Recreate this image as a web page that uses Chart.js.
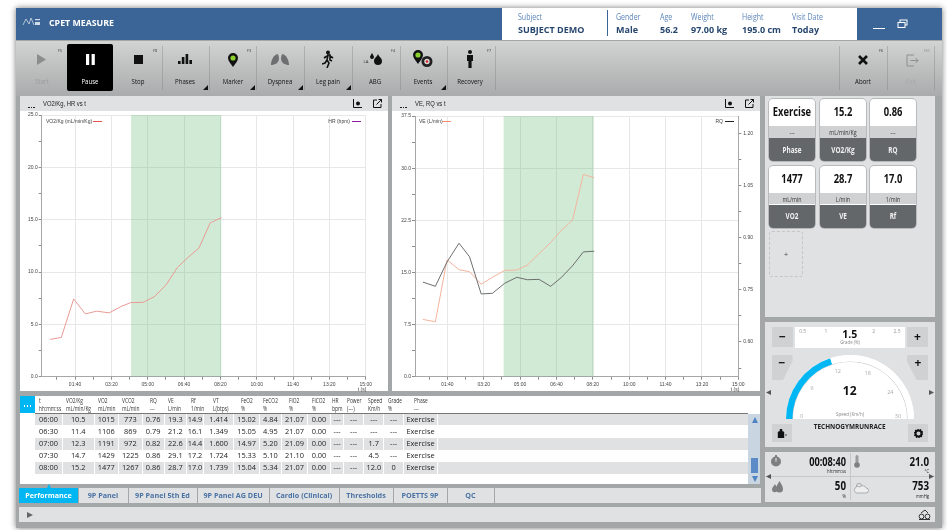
<!DOCTYPE html>
<html lang="en">
<head>
<meta charset="UTF-8">
<title>CPET Measure</title>
<script src="https://cdn.jsdelivr.net/npm/chart.js@4"></script>
<style>
html, body { margin: 0; padding: 0; background: #fff; overflow: hidden; }
#app { position: relative; width: 947px; height: 530px; font-family: "Open Sans", sans-serif; color: #111; filter: blur(0.3px); }
#app div, #app canvas, #app svg { position: absolute; }
.t { white-space: nowrap; line-height: 1; }
</style>
</head>
<body>
<div id="app"></div>
<script>
// chart 1
const vo2Times = [31, 62, 96, 128, 159, 194, 226, 253, 287, 319, 351, 382, 411, 441, 472, 503];
const vo2kg = [3.56, 3.75, 7.43, 6.0, 6.26, 6.1, 6.7, 7.08, 7.1, 7.66, 8.8, 10.45, 11.4, 12.3, 14.7, 15.2];
// chart 2
const veTimes = [33, 67, 99, 132, 161, 193, 224, 258, 291, 320, 352, 384, 414, 444, 474, 504];
const veValues = [8.24, 7.9, 16.8, 15.4, 15.1, 13.3, 14.3, 15.3, 15.34, 16.05, 17.7, 19.3, 21.1, 22.5, 29.1, 28.6];
const rqValues = [0.772, 0.76, 0.83, 0.884, 0.845, 0.738, 0.74, 0.769, 0.786, 0.779, 0.78, 0.76, 0.786, 0.819, 0.859, 0.861];
const phaseStart = 254;
const phaseEnd = 503;

const tableHeads = ['t|hh:mm:ss', 'VO2/Kg|mL/min/Kg', 'VO2|mL/min', 'VCO2|mL/min', 'RQ|---', 'VE|L/min', 'Rf|1/min', 'VT|L(btps)', 'FeO2|%', 'FeCO2|%', 'FiO2|%', 'FiCO2|%', 'HR|bpm', 'Power|(---)', 'Speed|Km/h', 'Grade|%', 'Phase|---'];
const tableRows = [
  ['06:00', '10.5', '1015', '773', '0.76', '19.3', '14.9', '1.414', '15.02', '4.84', '21.07', '0.00', '---', '---', '---', '---', 'Exercise'],
  ['06:30', '11.4', '1106', '869', '0.79', '21.2', '16.1', '1.349', '15.05', '4.95', '21.07', '0.00', '---', '---', '---', '---', 'Exercise'],
  ['07:00', '12.3', '1191', '972', '0.82', '22.6', '14.4', '1.600', '14.97', '5.20', '21.09', '0.00', '---', '---', '1.7', '---', 'Exercise'],
  ['07:30', '14.7', '1429', '1225', '0.86', '29.1', '17.2', '1.724', '15.33', '5.10', '21.10', '0.00', '---', '---', '4.5', '---', 'Exercise'],
  ['08:00', '15.2', '1477', '1267', '0.86', '28.7', '17.0', '1.739', '15.04', '5.34', '21.07', '0.00', '---', '---', '12.0', '0', 'Exercise']
];
const tabNames = ['Performance', '9P Panel', '9P Panel 5th Ed', '9P Panel AG DEU', 'Cardio (Clinical)', 'Thresholds', 'POETTS 9P', 'QC'];
const tileValues = ['Exercise', '15.2', '0.86', '1477', '28.7', '17.0'];
const tileUnits = ['---', 'mL/min/Kg', '---', 'mL/min', 'L/min', '1/min'];
const tileNames = ['Phase', 'VO2/Kg', 'RQ', 'VO2', 'VE', 'Rf'];
const toolNames = ['Start', 'Pause', 'Stop', 'Phases', 'Marker', 'Dyspnea', 'Leg pain', 'ABG', 'Events', 'Recovery'];
const speedValue = 12;
const speedMax = 30;

const app = document.getElementById('app');
const PANEL = '#dfe1e3';
const BLUE = '#3b6596';
const CYAN = '#00b7f4';

function box(x, y, w, h, css, html) {
  const d = document.createElement('div');
  d.style.cssText = `left:${x}px;top:${y}px;width:${w}px;height:${h}px;${css || ''}`;
  if (html) d.innerHTML = html;
  app.appendChild(d);
  return d;
}
// text centred on cx, cy (align: c, l or r)
function text(cx, cy, str, css, align) {
  const d = document.createElement('div');
  d.className = 't';
  const tx = align === 'l' ? '0' : align === 'r' ? '-100%' : '-50%';
  d.style.cssText = `left:${cx}px;top:${cy}px;transform:translate(${tx},-50%);${css || ''}`;
  d.textContent = str;
  app.appendChild(d);
  return d;
}
// same, squeezed sideways: the original font is a condensed one
function narrow(cx, cy, str, css, align, sx) {
  const d = text(cx, cy, str, css, align);
  d.style.transform += ` scaleX(${sx || 0.8})`;
  d.style.transformOrigin = align === 'l' ? '0 50%' : align === 'r' ? '100% 50%' : '50% 50%';
  return d;
}
function icon(cx, cy, w, h, inner) {
  box(cx - w / 2, cy - h / 2, w, h, '', `<svg width="${w}" height="${h}" viewBox="0 0 ${w} ${h}" style="left:0;top:0">${inner}</svg>`);
}
function tri(x, y, dir, size, color) {
  const pts = { u: `0,${size} ${size},${size} ${size / 2},0`, d: `0,0 ${size},0 ${size / 2},${size}`,
    l: `${size},0 ${size},${size} 0,${size / 2}`, r: `0,0 0,${size} ${size},${size / 2}`,
    c: `${size},0 ${size},${size} 0,${size}` }[dir];
  icon(x, y, size, size, `<polygon points="${pts}" fill="${color}"/>`);
}

// window frame
box(16, 8, 926, 520, 'background:#a3a7a7;box-shadow:0 0 6px rgba(0,0,0,.55);');
box(16, 8, 926, 32, `background:${BLUE};`);
box(16, 41, 926, 55, 'background:linear-gradient(#d2d4d3,#a9abac);');

// title bar
icon(32, 22, 20, 12, '<path d="M1 9 L4 3 L7 8 L9 2 L12 9" fill="none" stroke="#cfdbe8" stroke-width=".8"/><rect x="13" y="3" width="5" height="1.2" fill="#cfdbe8"/><rect x="13" y="6" width="5" height="3" fill="#cfdbe8"/>');
text(49, 23, 'CPET MEASURE', 'color:#fff;font-weight:700;font-size:8.8px;', 'l');
box(502, 8, 355, 32, 'background:#fff;');
box(607, 10, 1, 26, `background:${BLUE};`);
const SUBL = 'color:#5b84b8;font-size:9px;';
const SUBV = 'color:#27476f;font-weight:700;font-size:9px;';
[['Subject', 'SUBJECT DEMO', 518], ['Gender', 'Male', 616], ['Age', '56.2', 660], ['Weight', '97.00 kg', 691], ['Height', '195.0 cm', 742], ['Visit Date', 'Today', 792]].forEach(r => {
  narrow(r[2], 15.5, r[0], SUBL, 'l', 0.78);
  text(r[2], 29, r[1], SUBV, 'l');
});
box(873, 27.5, 12, 1.6, 'background:#fff;');
icon(902, 24, 11, 10, '<rect x="3" y="1" width="7" height="5" fill="none" stroke="#fff"/><rect x="1" y="3.5" width="7" height="5" fill="' + BLUE + '" stroke="#fff"/>');

// toolbar
const toolX = [42, 90, 138, 185, 233, 280, 328, 375, 423, 470];
box(67, 44, 46, 47, 'background:#000;border-radius:2px;');
[162, 209, 256, 304, 352, 400, 447, 495, 839, 887, 934].forEach(x => box(x, 46, 1, 44, 'background:rgba(120,120,120,.35);'));
toolNames.forEach((n, i) => {
  const col = i === 0 ? '#9a9c9c' : i === 1 ? '#fff' : '#111';
  narrow(toolX[i], 81, n, `color:${col};font-size:8px;`, 'c', 0.76);
});
narrow(863, 81, 'Abort', 'color:#111;font-size:8px;', 'c', 0.76);
narrow(911, 81, 'Exit', 'color:#a8aaaa;font-size:8px;', 'c', 0.76);
[['F5', 60], ['F8', 155], ['F3', 249], ['F4', 393], ['F7', 489], ['F6', 881]].forEach(k => text(k[1], 51, k[0], 'font-size:3.8px;color:#333;'));
text(927, 51, 'ESC', 'font-size:3.8px;color:#8e9090;');
[205, 252, 300, 348, 443].forEach(x => tri(x, 87.5, 'c', 5, '#111'));
const pin = (dx, dy) => `<path transform="translate(${dx},${dy})" d="M5 0 a5 5 0 0 1 5 5 c0 3 -3 6 -5 9 c-2 -3 -5 -6 -5 -9 a5 5 0 0 1 5 -5z" fill="#111"/><circle cx="${dx + 5}" cy="${dy + 5}" r="2.6" fill="#8ad02e"/>`;
icon(42, 59, 10, 11, '<polygon points="0,0 9,5.5 0,11" fill="#8b8d8d"/>');
icon(90, 59, 9, 11, '<rect width="3.2" height="11" fill="#fff"/><rect x="5.6" width="3.2" height="11" fill="#fff"/>');
icon(138, 59, 9, 9, '<rect width="9" height="9" fill="#111"/>');
icon(185, 59, 14, 10, '<rect x="0" y="7" width="2.6" height="3" fill="#111"/><rect x="3.8" y="3" width="2.6" height="7" fill="#111"/><rect x="7.6" y="0" width="2.6" height="10" fill="#111"/><rect x="11.4" y="6" width="2.6" height="4" fill="#111"/>');
icon(233, 60, 10, 14, pin(0, 0));
icon(280, 59, 24, 14, '<path d="M10 2 C5 3 3 9 3 13 C7 13 11 11 11 6z M14 2 C19 3 21 9 21 13 C17 13 13 11 13 6z" fill="#6d6f70"/>');
icon(328, 59, 12, 18, '<circle cx="6" cy="2.5" r="2" fill="#111"/><path d="M5 5 L8 5 L8 10 L10 11 M6 5 L5 10 L7 13 L5 18 M5 10 L3 13 L0 14 M8 6 L11 8 M5 6 L2 8" fill="none" stroke="#111" stroke-width="1.6"/>');
text(366, 62, 'LA', 'font-size:4.2px;color:#333;');
icon(376, 59, 14, 12, '<path d="M3 0 C4 2 5 3 5 4 A2 2 0 0 1 1 4 C1 3 2 2 3 0z" fill="#111"/><path d="M9 1 C10 4 13 5 13 8 A4 4 0 0 1 5 8 C5 5 8 4 9 1z" fill="#111"/>');
icon(423, 59, 21, 18, pin(0, 0) + '<circle cx="14" cy="11.5" r="5.5" fill="#222"/><circle cx="14" cy="11.5" r="2.7" fill="#ddd"/><circle cx="14" cy="11.5" r="1.3" fill="#d22"/>');
icon(470, 59, 8, 18, '<circle cx="4" cy="2" r="2" fill="#111"/><path d="M1 5 H7 V11 H5.6 V18 H2.4 V11 H1z" fill="#111"/>');
icon(863, 60, 10, 10, '<path d="M1 1 L9 9 M9 1 L1 9" stroke="#111" stroke-width="2.6"/>');
icon(912, 60, 13, 13, '<path d="M8 1 H1 V12 H8 M4.5 6.5 H12 M9.5 4 L12 6.5 L9.5 9" fill="none" stroke="#8e9090"/>');

// chart panels
const ARIAL = "font-family:'Liberation Sans',sans-serif;";
function chartPanel(x, title, legendL, swatchL, colorL, legendR, colorR) {
  box(x, 96, 368, 295, 'background:#fff;');
  box(x, 96, 368, 15, `background:${PANEL};`);
  const c = document.createElement('canvas');
  c.style.left = x + 'px';
  c.style.top = '111px';
  c.width = 368;
  c.height = 280;
  app.appendChild(c);
  for (let i = 0; i < 3; i++) box(x + 8 + i * 2.6, 106.5, 1.7, 1.7, 'background:#222;');
  narrow(x + 23, 103.5, title, 'font-size:6.8px;color:#222;' + ARIAL, 'l', 0.86);
  icon(x + 337, 103.5, 9, 9, '<path d="M.5 0 V8.5 H9" fill="none" stroke="#111"/><circle cx="5" cy="4.5" r="2" fill="#111"/>');
  icon(x + 357, 103.5, 9, 9, '<path d="M4 1 H.5 V8.5 H8 V5 M3.5 5.5 L8.5 .5 M5.5 .5 H8.5 V3.5" fill="none" stroke="#111"/>');
  const L = 'font-size:5px;color:#444;' + ARIAL;
  const lx = x === 20 ? 46 : 419;
  text(lx, 121, legendL, L, 'l');
  box(swatchL, 120.5, 9, 1, 'background:' + colorL + ';');
  const rx = x === 20 ? 350 : 723;
  text(rx, 121, legendR, L, 'r');
  box(rx + 2, 120.5, 9, 1, 'background:' + colorR + ';');
  return c;
}

function mmss(v) {
  const m = Math.floor(v / 60), s = v % 60;
  return String(m).padStart(2, '0') + ':' + String(s).padStart(2, '0');
}
function stepTicks(from, to, step) {
  const out = [];
  for (let v = from; v <= to + 1e-9; v += step) out.push({ value: Math.round(v * 1000) / 1000 });
  return out;
}
const tickFont = { family: 'Liberation Sans', size: 5 };
const GRID = '#e6e7e7';

function timeAxis(minX) {
  return {
    type: 'linear', min: minX, max: 900,
    afterBuildTicks: s => { s.ticks = stepTicks(50, 900, 50); },
    afterFit: s => { s.height = 14.3; },
    border: { color: '#a5a7a8' },
    grid: {
      color: c => (c.tick && c.tick.value % 100 === 0 ? GRID : 'rgba(0,0,0,0)'),
      tickColor: '#8b8d8e', tickLength: 3, drawOnChartArea: true
    },
    ticks: {
      font: tickFont, color: '#444', autoSkip: false, maxRotation: 0, padding: 1.5,
      callback: v => (v % 100 === 0 ? mmss(v) : '')
    }
  };
}
function leftAxis(maxY, step, width) {
  return {
    type: 'linear', position: 'left', min: 0, max: maxY,
    afterBuildTicks: s => { s.ticks = stepTicks(0, maxY, step / 2); },
    afterFit: s => { s.width = width; },
    border: { color: '#a5a7a8' },
    grid: {
      color: c => (c.tick && Math.abs(c.tick.value % step) < 1e-6 ? GRID : 'rgba(0,0,0,0)'),
      tickColor: '#8b8d8e', tickLength: 3
    },
    ticks: {
      font: tickFont, color: '#444', autoSkip: false, padding: 1,
      callback: v => (Math.abs(v % step) < 1e-6 ? v.toFixed(1) : '')
    }
  };
}
function pts(xs, ys) {
  return xs.map((x, i) => ({ x: x, y: ys[i] }));
}
function phaseBand(maxY, axisId) {
  return {
    data: [{ x: phaseStart, y: maxY }, { x: phaseEnd, y: maxY }], yAxisID: axisId,
    borderWidth: 0, pointRadius: 0, fill: 'origin', backgroundColor: 'rgba(104,184,116,0.3)', order: 5
  };
}

new Chart(chartPanel(20, 'VO2/Kg, HR vs t', 'VO2/Kg (mL/min/Kg)', 93, '#e4504c', 'HR (bpm)', '#8b1a9c'), {
  type: 'line',
  data: {
    datasets: [
      { data: pts(vo2Times, vo2kg), borderColor: '#e99a95', borderWidth: 1, pointRadius: 0, tension: 0, fill: false, order: 1 },
      phaseBand(25, 'y')
    ]
  },
  options: {
    responsive: false, animation: false, parsing: false,
    layout: { padding: { top: 3.3, right: 22.3, left: 0, bottom: 0 } },
    plugins: { legend: { display: false }, tooltip: { enabled: false } },
    scales: { x: timeAxis(8), y: leftAxis(25, 5, 21.7) }
  }
});

new Chart(chartPanel(392, 'VE, RQ vs t', 'VE (L/min)', 442, '#f58d6c', 'RQ', '#222'), {
  type: 'line',
  data: {
    datasets: [
      { data: pts(veTimes, veValues), yAxisID: 'y', borderColor: '#f4b49d', borderWidth: 1, pointRadius: 0, tension: 0, fill: false, order: 1 },
      { data: pts(veTimes, rqValues), yAxisID: 'y2', borderColor: '#6c6e6e', borderWidth: 1, pointRadius: 0, tension: 0, fill: false, order: 0 },
      phaseBand(37.5, 'y')
    ]
  },
  options: {
    responsive: false, animation: false, parsing: false,
    layout: { padding: { top: 3.3, right: 0, left: 0, bottom: 0 } },
    plugins: { legend: { display: false }, tooltip: { enabled: false } },
    scales: {
      x: timeAxis(11),
      y: leftAxis(37.5, 7.5, 23),
      y2: {
        type: 'linear', position: 'right', min: 0.5, max: 1.25,
        afterBuildTicks: s => { s.ticks = stepTicks(0.525, 1.2, 0.075); },
        afterFit: s => { s.width = 21.7; },
        border: { color: '#a5a7a8' },
        grid: { drawOnChartArea: false, tickColor: '#8b8d8e', tickLength: 3 },
        ticks: {
          font: tickFont, color: '#444', autoSkip: false, padding: 2,
          callback: v => (Math.round(v * 1000) % 150 === 0 ? v.toFixed(2) : '')
        }
      }
    }
  }
});
text(362, 388.5, 't (s)', 'font-size:5px;color:#444;' + ARIAL);
text(735, 388.5, 't (s)', 'font-size:5px;color:#444;' + ARIAL);

// data table
box(20, 396, 740, 88, 'background:#fff;');
box(20, 396, 15, 17, `background:${CYAN};`);
for (let i = 0; i < 3; i++) box(23.5 + i * 3, 405, 1.7, 1.7, 'background:#fff;');
box(35, 413, 713, 1, 'background:#777;');
const colLeft = [35, 62.7, 94.3, 119, 142.3, 164.7, 186.7, 204, 234, 260, 281.7, 308, 331, 344, 364.3, 384, 404];
const colRight = [62, 93.7, 118.3, 141.7, 164, 186, 203.3, 233.3, 259.3, 280.7, 307.3, 330, 343.3, 363.3, 383.3, 403.3, 437];
const headX = [39, 66, 97.7, 122, 150, 168.3, 190.7, 213, 241, 263.3, 289, 311.7, 332, 347, 367.7, 388, 414.3];
tableHeads.forEach((h, i) => {
  const p = h.split('|');
  narrow(headX[i], 401, p[0], 'font-size:6.6px;color:#333;', 'l', 0.74);
  narrow(headX[i], 409, p[1], 'font-size:6.6px;color:#333;', 'l', 0.74);
});
tableRows.forEach((row, r) => {
  const y = 413.7 + r * 12.1;
  if (r % 2 === 0) box(35, y + .3, 713, 11.4, 'background:' + PANEL + ';');
  row.forEach((v, c) => {
    if (r % 2 === 0) box(colRight[c], y, 1, 12, 'background:#fff;');
    text((colLeft[c] + colRight[c]) / 2, y + 6, v, 'font-size:7.4px;color:#222;');
  });
});
box(748, 414, 12, 70, 'background:#c9d6e1;');
box(751, 458, 7, 15, 'background:#5b8bc6;');
tri(754.5, 419.5, 'u', 6, '#4f83c1');
tri(754.5, 478.5, 'd', 6, '#4f83c1');

// tabs
const tabEdges = [19, 78, 128, 197, 269, 339, 393, 447, 494, 761];
box(19, 488, 742, 15, `background:${PANEL};`);
box(19, 488, 59, 15, `background:${CYAN};`);
tabEdges.slice(1, 9).forEach(x => box(x, 488, 1, 15, 'background:#a3a7a7;'));
tri(49, 485.5, 'u', 4, CYAN);
tabNames.forEach((n, i) => {
  text((tabEdges[i] + tabEdges[i + 1]) / 2, 495.5, n, `font-size:7.2px;font-weight:700;color:${i === 0 ? '#fff' : '#4a72a4'};`);
});
box(19, 507, 916, 15, `background:${PANEL};`);
tri(30, 514.5, 'r', 6, '#666');
icon(924, 514, 13, 11, '<circle cx="3.5" cy="7.5" r="2.4" fill="none" stroke="#333"/><circle cx="9.5" cy="7.5" r="2.4" fill="none" stroke="#333"/><path d="M3 4 L7 1 L10 4" fill="none" stroke="#333"/><rect x="1" y="10" width="11" height="1" fill="#333"/>');

// value tiles
box(765, 96, 170, 221, `background:${PANEL};`);
const tileX = [769.3, 819.7, 870.3];
tileNames.forEach((n, i) => {
  const x = tileX[i % 3], y = i < 3 ? 99.3 : 165.7;
  box(x, y, 46, 62, 'background:#fff;border-radius:4px;overflow:hidden;box-shadow:0 0 0 .7px #aaa;',
    '<div style="left:0;top:27px;width:46px;height:11.5px;background:#cfd1d3"></div><div style="left:0;top:39px;width:46px;height:23px;background:#63676a"></div>');
  narrow(x + 23, y + 13, tileValues[i], 'font-size:12px;font-weight:700;color:#111;', 'c', 0.78);
  narrow(x + 23, y + 32.8, tileUnits[i], 'font-size:7px;color:#333;', 'c', 0.76);
  narrow(x + 23, y + 50.5, n, 'font-size:8.4px;font-weight:700;color:#f1f1f1;', 'c', 0.76);
});
box(769, 231, 34, 46, 'border:1px dashed #c4c6c8;border-radius:3px;box-sizing:border-box;');
text(786, 254, '+', 'font-size:8px;color:#555;');

// treadmill control
box(765, 322, 170, 125, `background:${PANEL};`);
const BTN = 'background:#cfd1d3;border-radius:1px;';
box(772, 327, 21, 20, BTN);
box(907, 327, 21, 20, BTN);
text(782.5, 336.5, '\u2212', 'font-size:12px;font-weight:700;');
text(917.5, 336.5, '+', 'font-size:12px;font-weight:700;');
box(795, 327, 110, 20.5, 'background:#fff;');
[['0.5', 802.7], ['1', 826], ['2', 873.7], ['2.5', 897]].forEach(g => text(g[1], 331, g[0], 'font-size:5px;color:#999;'));
text(849.7, 333.5, '1.5', 'font-size:10.5px;font-weight:700;');
narrow(849.7, 343.3, 'Grade (%)', 'font-size:5.4px;color:#888;', 'c', 0.8);
box(771.5, 355, 21, 25, BTN + 'clip-path:polygon(0 0,100% 0,100% 25%,55% 100%,0 100%);');
box(907, 355, 21, 25, BTN + 'clip-path:polygon(0 0,100% 0,100% 100%,45% 100%,0 25%);');
text(782, 362.5, '\u2212', 'font-size:12px;font-weight:700;');
text(918, 362.5, '+', 'font-size:12px;font-weight:700;');

box(785.7, 355.3, 128, 64, 'background:#fff;border-radius:64px 64px 0 0;');
box(791.7, 361.3, 116, 58, 'border:1px solid #c9cbcd;border-bottom:0;border-radius:58px 58px 0 0;box-sizing:border-box;');
const gauge = document.createElement('canvas');
gauge.style.left = '785.7px';
gauge.style.top = '355.3px';
gauge.width = 128;
gauge.height = 64;
app.appendChild(gauge);
new Chart(gauge, {
  type: 'doughnut',
  data: { datasets: [{ data: [speedValue, speedMax - speedValue], backgroundColor: [CYAN, '#fff'], borderWidth: 0 }] },
  options: {
    responsive: false, animation: false, rotation: -90, circumference: 180, cutout: '90%',
    layout: { padding: 0 }, plugins: { legend: { display: false }, tooltip: { enabled: false } }
  }
});
[['0', 801.5, 417], ['6', 812, 389], ['12', 837.7, 372.3], ['18', 867.7, 373.7], ['24', 890.3, 392.7], ['30', 898, 417]].forEach(g => text(g[1], g[2], g[0], 'font-size:5.5px;color:#aaa;'));
text(849.7, 391, String(speedValue), 'font-size:12px;font-weight:700;');
narrow(849.7, 415, 'Speed (Km/h)', 'font-size:5.6px;color:#888;', 'c', 0.8);
text(849.7, 426.7, 'TECHNOGYMRUNRACE', 'font-size:6.4px;font-weight:700;color:#222;');
box(772, 424, 20, 18, BTN);
box(908, 424, 20, 18, BTN);
icon(782, 433, 10, 9, '<path d="M3 0 H5 V2 L7 3 V9 H1 V3 L3 2z M8 6 H10 M9 5 V7" fill="#111" stroke="#111" stroke-width=".4"/>');
icon(918, 433, 9, 9, '<circle cx="4.5" cy="4.5" r="3" fill="none" stroke="#111" stroke-width="2"/><circle cx="4.5" cy="4.5" r="4.2" fill="none" stroke="#111" stroke-width="1.2" stroke-dasharray="1.3 1.3"/>');
tri(768.5, 392, 'l', 5, '#555');
tri(931.5, 392, 'r', 5, '#555');

// ambient panel
box(765, 452, 170, 50, `background:${PANEL};`);
box(765, 476, 170, 1, 'background:#c5c7c9;');
box(849.5, 453, 1, 47, 'background:#c5c7c9;');
narrow(845.5, 461.5, '00:08:40', 'font-size:11.5px;font-weight:700;', 'r', 0.8);
narrow(846, 471.5, 'hh:mm:ss', 'font-size:5.2px;color:#222;', 'r', 0.8);
narrow(929, 461.5, '21.0', 'font-size:11.5px;font-weight:700;', 'r', 0.85);
narrow(929, 471.5, '\u00b0C', 'font-size:5.2px;color:#222;', 'r', 0.8);
narrow(845.5, 486, '50', 'font-size:11.5px;font-weight:700;', 'r', 0.85);
narrow(846, 497, '%', 'font-size:5.2px;color:#222;', 'r', 0.8);
narrow(929, 486, '753', 'font-size:11.5px;font-weight:700;', 'r', 0.85);
narrow(929, 497, 'mmHg', 'font-size:5.2px;color:#222;', 'r', 0.8);
icon(776, 461, 12, 12, '<circle cx="6" cy="6.5" r="5" fill="#7d7f80"/><rect x="5" y="0" width="2" height="2" fill="#7d7f80"/><path d="M6 6.5 L6 3" stroke="#eee"/>');
icon(857, 461, 6, 13, '<rect x="1.5" y="0" width="3" height="9" rx="1.5" fill="#9a9c9d"/><circle cx="3" cy="10" r="2.8" fill="#7d7f80"/>');
icon(777, 487, 11, 12, '<path d="M7.5 0 C9 3 11 5 11 8 A3.5 3.5 0 0 1 4 8 C4 5 6 3 7.5 0z" fill="#7d7f80"/><path d="M3 3 C4 5 5.5 6.5 5.5 8.5 A2.7 2.7 0 0 1 0 8.5 C0 6.5 2 5 3 3z" fill="#7d7f80"/>');
icon(861, 487, 17, 13, '<circle cx="6" cy="5" r="2.6" fill="none" stroke="#888" stroke-width=".6"/><path d="M3 12 H13 A2.5 2.5 0 0 0 13 7 A3.5 3.5 0 0 0 7 6 A3 3 0 0 0 3 12z" fill="#eee" stroke="#888" stroke-width=".6"/>');
tri(768.5, 476, 'l', 5, '#555');
tri(931.5, 476, 'r', 5, '#555');
</script>
</body>
</html>
